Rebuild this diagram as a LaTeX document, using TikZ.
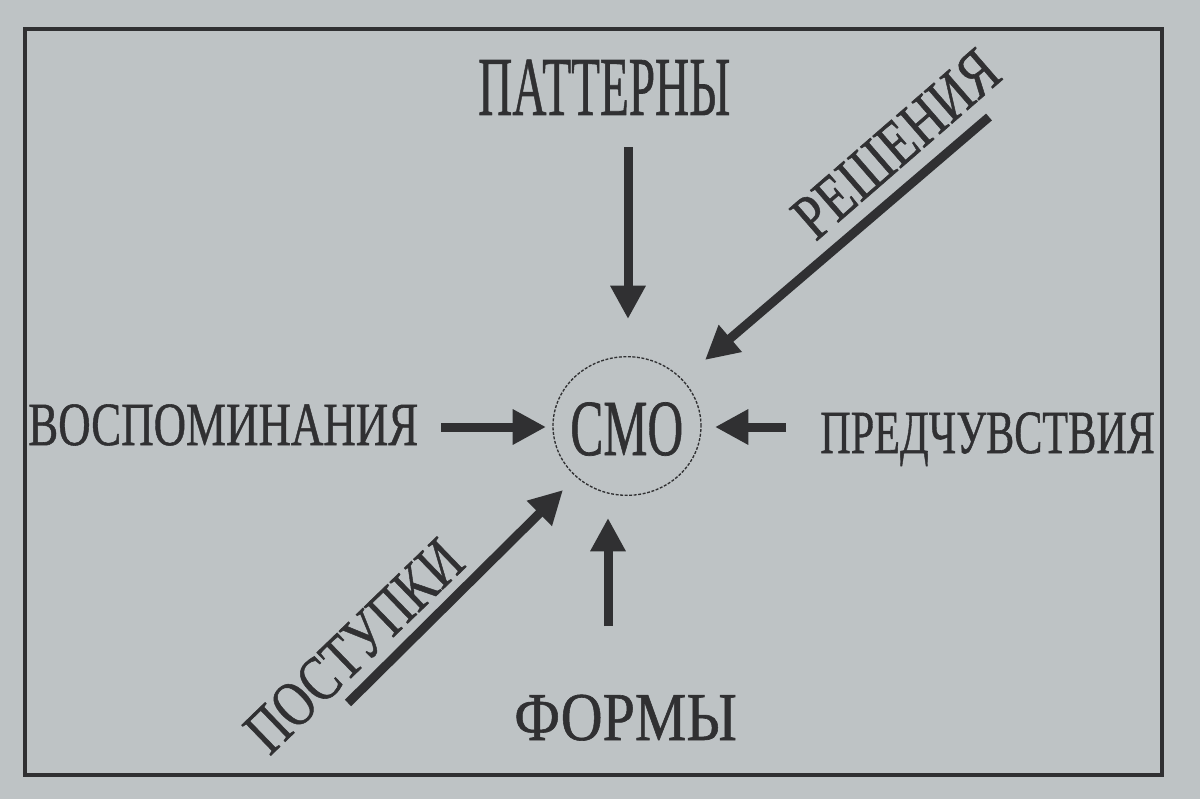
\documentclass[tikz,border=0pt]{standalone}
\usepackage{fontspec}
\setmainfont{Liberation Serif}
\newfontfamily\heavyserif[FakeBold=0.9]{Liberation Serif}
\usetikzlibrary{arrows.meta,shapes.geometric}
\definecolor{paper}{RGB}{190,195,197}
\definecolor{ink}{RGB}{48,48,50}
\newcommand{\lbl}[3]{\resizebox{#1pt}{#2pt}{\heavyserif #3}}
\begin{document}
\begin{tikzpicture}[x=0.75pt,y=-0.75pt,
  label text/.style={inner sep=0pt, text=ink},
  bigarrow/.style={draw=ink, line width=6.75pt, -{Triangle[length=25pt,width=25pt]}, shorten >=0pt},
  frame/.style={draw=ink, line width=2.3pt}]
\fill[paper] (0,0) rectangle (1200,799);
\useasboundingbox (0,0) rectangle (1200,799);
\draw[frame] (25,29) rectangle (1162,775);

% centre
\node[label text, anchor=base west] (smo) at (570,455) {\lbl{84.75}{39.5}{СМО}};
\node[draw=ink, line width=1pt, dash pattern=on 2.2pt off 1.2pt, ellipse, minimum width=111pt, minimum height=104pt, inner sep=0pt] (circ) at (627,426) {};

% labels
\node[label text, anchor=base west] (patt) at (478,115) {\lbl{189}{41.5}{ПАТТЕРНЫ}};
\node[label text, anchor=base west] (vosp) at (28,445) {\lbl{292.5}{30.5}{ВОСПОМИНАНИЯ}};
\node[label text, anchor=base west] (pred) at (820,453) {\lbl{251}{30.5}{ПРЕДЧУВСТВИЯ}};
\node[label text, anchor=base west] (form) at (514,740) {\lbl{167}{34}{ФОРМЫ}};
\node[label text, rotate=41] (resh) at (896,144) {\lbl{187.5}{32}{РЕШЕНИЯ}};
\node[label text, rotate=44] (post) at (354,646) {\lbl{206}{32}{ПОСТУПКИ}};

% arrow ends
\coordinate (pattA) at (628,147);
\coordinate (pattB) at (628,319);
\coordinate (vospA) at (441,427);
\coordinate (vospB) at (546,427);
\coordinate (predA) at (786,427);
\coordinate (predB) at (715,427);
\coordinate (formA) at (608,626);
\coordinate (formB) at (608,518);
\coordinate (reshA) at (989,117);
\coordinate (reshB) at (705,360);
\coordinate (postA) at (348,703);
\coordinate (postB) at (563,490);

\draw[bigarrow] (pattA) -- (pattB);
\draw[bigarrow] (vospA) -- (vospB);
\draw[bigarrow] (predA) -- (predB);
\draw[bigarrow] (formA) -- (formB);
\draw[bigarrow] (reshA) -- (reshB);
\draw[bigarrow] (postA) -- (postB);
\end{tikzpicture}
\end{document}
